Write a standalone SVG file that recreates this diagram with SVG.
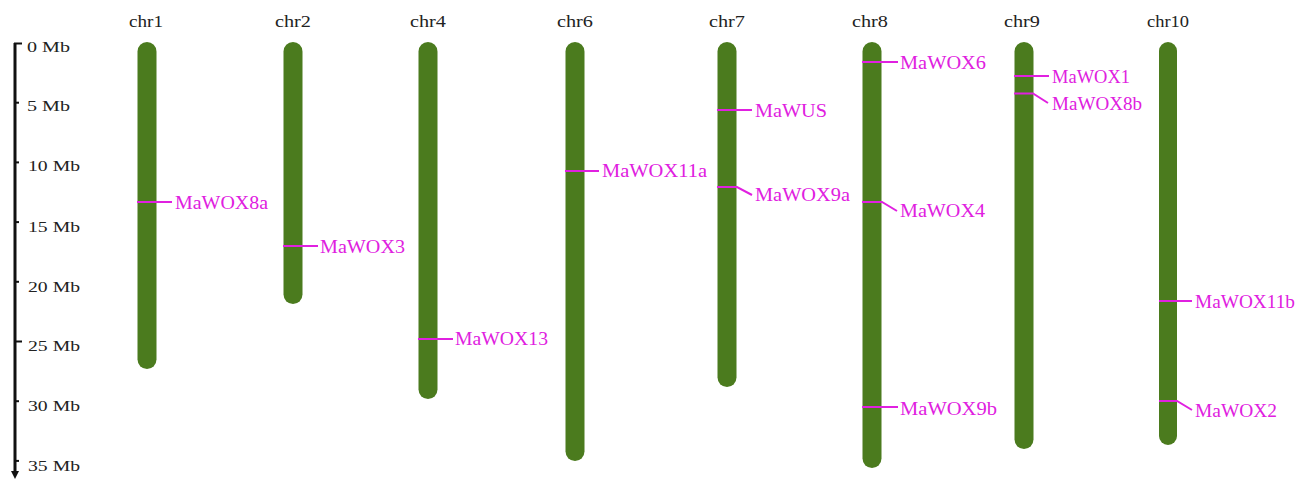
<svg xmlns="http://www.w3.org/2000/svg" width="1305" height="479" viewBox="0 0 1305 479">
  <style>
    .chr { fill: #4b7b1e; }
    .chrlab { font-family: "Liberation Serif", "Times New Roman", serif; font-size: 17px; fill: #222; text-anchor: middle; }
    .axlab { font-family: "Liberation Serif", "Times New Roman", serif; font-size: 15px; fill: #222; }
    .gene { font-family: "Liberation Serif", "Times New Roman", serif; font-size: 18px; fill: #e020e0; }
    .mark { fill: none; stroke: #e020e0; stroke-width: 2; }
    .axis { stroke: #111; stroke-width: 3; fill: none; }
    .tick { stroke: #111; stroke-width: 2; }
  </style>
  <rect width="1305" height="479" fill="#ffffff"/>

  <!-- scale bar: 0-35 Mb, ~11.94 px per Mb starting at y=43 -->
  <g id="scale">
    <line class="axis" x1="15" y1="43" x2="15" y2="472"/>
    <line class="tick" x1="14" y1="43.5" x2="22" y2="43.5"/>
    <line class="tick" x1="15" y1="102.7" x2="19" y2="102.7"/>
    <line class="tick" x1="15" y1="162.4" x2="19" y2="162.4"/>
    <line class="tick" x1="15" y1="222.1" x2="19" y2="222.1"/>
    <line class="tick" x1="15" y1="281.8" x2="19" y2="281.8"/>
    <line class="tick" x1="15" y1="341.5" x2="22" y2="341.5"/>
    <line class="tick" x1="15" y1="401.2" x2="19" y2="401.2"/>
    <line class="tick" x1="15" y1="460.9" x2="19" y2="460.9"/>
    <polygon points="11,471 19,471 15,479" fill="#111"/>
    <text class="axlab" x="27" y="52" textLength="43" lengthAdjust="spacingAndGlyphs">0 Mb</text>
    <text class="axlab" x="27" y="111" textLength="43" lengthAdjust="spacingAndGlyphs">5 Mb</text>
    <text class="axlab" x="28" y="171" textLength="52" lengthAdjust="spacingAndGlyphs">10 Mb</text>
    <text class="axlab" x="28" y="232" textLength="52" lengthAdjust="spacingAndGlyphs">15 Mb</text>
    <text class="axlab" x="28" y="292" textLength="52" lengthAdjust="spacingAndGlyphs">20 Mb</text>
    <text class="axlab" x="28" y="351" textLength="52" lengthAdjust="spacingAndGlyphs">25 Mb</text>
    <text class="axlab" x="28" y="411" textLength="52" lengthAdjust="spacingAndGlyphs">30 Mb</text>
    <text class="axlab" x="28" y="471" textLength="52" lengthAdjust="spacingAndGlyphs">35 Mb</text>
  </g>

  <!-- chromosomes -->
  <g id="chr1">
    <text class="chrlab" x="146" y="27" textLength="34" lengthAdjust="spacingAndGlyphs">chr1</text>
    <rect class="chr" x="137.5" y="42" width="19" height="327" rx="9.5"/>
  </g>
  <g id="chr2">
    <text class="chrlab" x="293" y="27" textLength="36" lengthAdjust="spacingAndGlyphs">chr2</text>
    <rect class="chr" x="283.5" y="42" width="19" height="262" rx="9.5"/>
  </g>
  <g id="chr4">
    <text class="chrlab" x="428" y="27" textLength="36" lengthAdjust="spacingAndGlyphs">chr4</text>
    <rect class="chr" x="418.5" y="42" width="19" height="357" rx="9.5"/>
  </g>
  <g id="chr6">
    <text class="chrlab" x="575" y="27" textLength="36" lengthAdjust="spacingAndGlyphs">chr6</text>
    <rect class="chr" x="565.5" y="42" width="19" height="419" rx="9.5"/>
  </g>
  <g id="chr7">
    <text class="chrlab" x="727" y="27" textLength="36" lengthAdjust="spacingAndGlyphs">chr7</text>
    <rect class="chr" x="717.5" y="42" width="19" height="345" rx="9.5"/>
  </g>
  <g id="chr8">
    <text class="chrlab" x="870" y="27" textLength="36" lengthAdjust="spacingAndGlyphs">chr8</text>
    <rect class="chr" x="862.5" y="42" width="19" height="426" rx="9.5"/>
  </g>
  <g id="chr9">
    <text class="chrlab" x="1022" y="27" textLength="36" lengthAdjust="spacingAndGlyphs">chr9</text>
    <rect class="chr" x="1014.5" y="42" width="19" height="407" rx="9.5"/>
  </g>
  <g id="chr10">
    <text class="chrlab" x="1168" y="27" textLength="42" lengthAdjust="spacingAndGlyphs">chr10</text>
    <rect class="chr" x="1159" y="42" width="18" height="403" rx="9"/>
  </g>

  <!-- gene position markers and leader lines -->
  <g id="connectors">
    <polyline class="mark" points="137,202 172,202"/>
    <polyline class="mark" points="283,246 318,246"/>
    <polyline class="mark" points="418,339 453,339"/>
    <polyline class="mark" points="565,171 599,171"/>
    <polyline class="mark" points="717,110 752,110"/>
    <polyline class="mark" points="717,187 737,187 752,195"/>
    <polyline class="mark" points="862,62 898,62"/>
    <polyline class="mark" points="862,202 882,202 897,211"/>
    <polyline class="mark" points="862,407 898,407"/>
    <polyline class="mark" points="1014,76 1049,76"/>
    <polyline class="mark" points="1014,93.5 1033,93.5 1048,103"/>
    <polyline class="mark" points="1159,301 1192,301"/>
    <polyline class="mark" points="1159,401 1177,401 1192,410"/>
  </g>

  <!-- gene labels -->
  <g id="MaWOX8a"><text class="gene" x="175" y="209" textLength="93" lengthAdjust="spacingAndGlyphs">MaWOX8a</text></g>
  <g id="MaWOX3"><text class="gene" x="320" y="253" textLength="85" lengthAdjust="spacingAndGlyphs">MaWOX3</text></g>
  <g id="MaWOX13"><text class="gene" x="455" y="345" textLength="93" lengthAdjust="spacingAndGlyphs">MaWOX13</text></g>
  <g id="MaWOX11a"><text class="gene" x="602" y="177" textLength="105" lengthAdjust="spacingAndGlyphs">MaWOX11a</text></g>
  <g id="MaWUS"><text class="gene" x="755" y="117" textLength="72" lengthAdjust="spacingAndGlyphs">MaWUS</text></g>
  <g id="MaWOX9a"><text class="gene" x="755" y="201" textLength="95" lengthAdjust="spacingAndGlyphs">MaWOX9a</text></g>
  <g id="MaWOX6"><text class="gene" x="900" y="69" textLength="86" lengthAdjust="spacingAndGlyphs">MaWOX6</text></g>
  <g id="MaWOX4"><text class="gene" x="900" y="217" textLength="85" lengthAdjust="spacingAndGlyphs">MaWOX4</text></g>
  <g id="MaWOX9b"><text class="gene" x="900" y="415" textLength="97" lengthAdjust="spacingAndGlyphs">MaWOX9b</text></g>
  <g id="MaWOX1"><text class="gene" x="1052" y="83" textLength="78" lengthAdjust="spacingAndGlyphs">MaWOX1</text></g>
  <g id="MaWOX8b"><text class="gene" x="1052" y="110" textLength="90" lengthAdjust="spacingAndGlyphs">MaWOX8b</text></g>
  <g id="MaWOX11b"><text class="gene" x="1195" y="308" textLength="100" lengthAdjust="spacingAndGlyphs">MaWOX11b</text></g>
  <g id="MaWOX2"><text class="gene" x="1195" y="417" textLength="82" lengthAdjust="spacingAndGlyphs">MaWOX2</text></g>
</svg>
